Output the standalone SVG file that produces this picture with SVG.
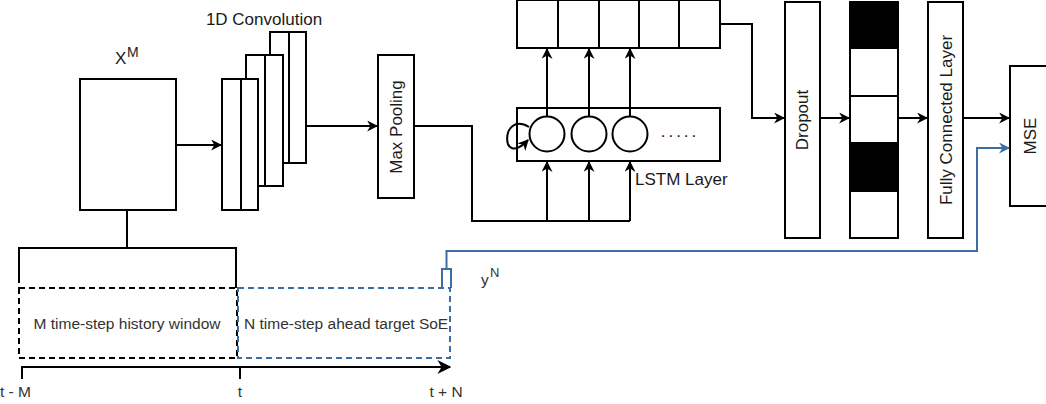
<svg xmlns="http://www.w3.org/2000/svg" width="1046" height="404" viewBox="0 0 1046 404">
<defs>
<style>
.b{fill:#fff;stroke:#000;stroke-width:2}
.k{fill:#000;stroke:#000;stroke-width:2}
.ln{fill:none;stroke:#000;stroke-width:2}
.bl{fill:none;stroke:#3c6ea5;stroke-width:2}
.dk{fill:none;stroke:#000;stroke-width:2;stroke-dasharray:6 4}
.db{fill:none;stroke:#3c6ea5;stroke-width:2;stroke-dasharray:6 4}
text{font-family:"Liberation Sans",Arial,sans-serif;fill:#1a1a1a}
.t{font-size:17px}
.s{font-size:15.5px;fill:#333}
</style>
<marker id="ah" viewBox="0 0 10 10" refX="9" refY="5" markerWidth="11" markerHeight="11" markerUnits="userSpaceOnUse" orient="auto"><path d="M0,0 L10,5 L0,10 L3,5 Z" fill="#000"/></marker>
<marker id="ahb" viewBox="0 0 10 10" refX="9" refY="5" markerWidth="11" markerHeight="11" markerUnits="userSpaceOnUse" orient="auto"><path d="M0,0 L10,5 L0,10 L3,5 Z" fill="#3c6ea5"/></marker>
<marker id="ahL" viewBox="0 0 10 10" refX="9" refY="5" markerWidth="14" markerHeight="14" markerUnits="userSpaceOnUse" orient="auto"><path d="M0,0 L10,5 L0,10 L3,5 Z" fill="#000"/></marker>
</defs>

<g id="input">
<rect class="b" x="80" y="79" width="96" height="131"/>
<text class="t" x="115" y="64">X</text>
<text x="127" y="57" style="font-size:14px">M</text>
</g>

<g id="conv">
<rect class="b" x="270" y="32" width="19" height="131"/>
<rect class="b" x="289" y="32" width="17" height="131"/>
<rect class="b" x="246" y="55" width="19" height="131"/>
<rect class="b" x="265" y="55" width="18" height="131"/>
<rect class="b" x="222" y="79" width="19" height="131"/>
<rect class="b" x="241" y="79" width="17" height="131"/>
<text class="t" x="264" y="25" text-anchor="middle">1D Convolution</text>
</g>

<g id="maxpool">
<rect class="b" x="378" y="55" width="36" height="143"/>
<text class="t" transform="translate(402,127) rotate(-90)" text-anchor="middle">Max Pooling</text>
</g>

<g id="lstm">
<rect class="b" x="517" y="108" width="203" height="53"/>
<circle class="b" cx="547" cy="134" r="17.5"/>
<circle class="b" cx="589" cy="134" r="17.5"/>
<circle class="b" cx="630" cy="134" r="17.5"/>
<text class="t" x="680" y="137" text-anchor="middle" letter-spacing="3">.....</text>
<path class="ln" d="M529,127 C500,110 500,170 528,140" marker-end="url(#ah)"/>
<text class="t" x="635" y="185">LSTM Layer</text>
</g>

<g id="lstm-out">
<rect class="b" x="517" y="0" width="203" height="48"/>
<path class="ln" d="M558,0 V48 M599,0 V48 M639,0 V48 M679,0 V48"/>
</g>

<g id="dropout">
<rect class="b" x="785" y="2" width="35" height="236"/>
<text class="t" transform="translate(808,120) rotate(-90)" text-anchor="middle">Dropout</text>
</g>

<g id="mask">
<rect class="b" x="850" y="2" width="48" height="236"/>
<rect class="k" x="850" y="2" width="48" height="46"/>
<rect class="k" x="850" y="143" width="48" height="48"/>
<path class="ln" d="M850,96 H898"/>
</g>

<g id="fc">
<rect class="b" x="928" y="2" width="35" height="236"/>
<text class="t" transform="translate(952,120) rotate(-90)" text-anchor="middle">Fully Connected Layer</text>
</g>

<g id="mse">
<rect class="b" x="1010" y="66" width="40" height="140"/>
<text class="t" transform="translate(1036,136) rotate(-90)" text-anchor="middle">MSE</text>
</g>

<g id="history">
<rect class="dk" x="19" y="288" width="218" height="70"/>
<text class="s" x="127" y="329" text-anchor="middle">M time-step history window</text>
</g>

<g id="target">
<rect class="db" x="238" y="288" width="212" height="70"/>
<text class="s" x="244" y="329">N time-step ahead target SoE</text>
</g>

<g id="axis">
<path class="ln" d="M22,367 H450" marker-end="url(#ahL)"/>
<path class="ln" d="M22,366 V379 M240,366 V379"/>
<text class="s" x="0" y="397">t - M</text>
<text class="s" x="240" y="397" text-anchor="middle">t</text>
<text class="s" x="446" y="397" text-anchor="middle">t + N</text>
</g>

<g id="yN">
<text class="s" x="481" y="285">y</text>
<text x="490" y="277" style="font-size:13px;fill:#333">N</text>
</g>

<g id="connectors">
<path class="ln" d="M176,145 H221" marker-end="url(#ah)"/>
<path class="ln" d="M306,126 H377" marker-end="url(#ah)"/>
<path class="ln" d="M414,126 H472 V221 H630"/>
<path class="ln" d="M547,221 V162" marker-end="url(#ah)"/>
<path class="ln" d="M589,221 V162" marker-end="url(#ah)"/>
<path class="ln" d="M630,221 V162" marker-end="url(#ah)"/>
<path class="ln" d="M547,116 V49" marker-end="url(#ah)"/>
<path class="ln" d="M589,116 V49" marker-end="url(#ah)"/>
<path class="ln" d="M630,116 V49" marker-end="url(#ah)"/>
<path class="ln" d="M720,24 H752 V118 H784" marker-end="url(#ah)"/>
<path class="ln" d="M820,118 H849" marker-end="url(#ah)"/>
<path class="ln" d="M898,118 H927" marker-end="url(#ah)"/>
<path class="ln" d="M963,118 H1009" marker-end="url(#ah)"/>
<path class="ln" d="M127,210 V248 M19,283 V248 H236 V288"/>
<path class="bl" d="M442,288 V269 H451 V288"/>
<path class="bl" d="M446.5,269 V251 H977 V148 H1009" marker-end="url(#ahb)"/>
</g>
</svg>
